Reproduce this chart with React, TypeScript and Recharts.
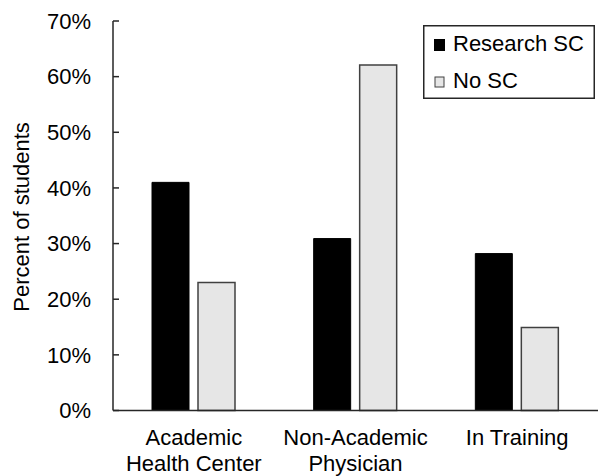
import React from "react";
import { BarChart, Bar, XAxis, YAxis, Legend } from "recharts";

const categories = ["Academic\nHealth Center", "Non-Academic\nPhysician", "In Training"];
const researchSC = [41, 30.9, 28.2];
const noSC = [23, 62.1, 14.9];
const yTicks = [0, 10, 20, 30, 40, 50, 60, 70];

const data = categories.map((c, i) => ({ name: c, research: researchSC[i], no: noSC[i] }));

const FONT = "'Liberation Sans', Arial, sans-serif";
const FS = 22;
const AXIS = "#262626";

const XTick = (props: any) => {
  const { x, y, payload } = props;
  const lines = String(payload.value).split("\n");
  return (
    <g>
      {lines.map((l: string, i: number) => (
        <text
          key={i}
          x={x}
          y={y + 34.5 + i * 26}
          textAnchor="middle"
          fontSize={FS}
          fontFamily={FONT}
          fill="#000"
        >
          {l}
        </text>
      ))}
    </g>
  );
};

const YTick = (props: any) => {
  const { x, y, payload } = props;
  const m = 22;
  return (
    <g>
      <line x1={x + m} x2={x + m + 6} y1={y} y2={y} stroke={AXIS} strokeWidth={1.5} />
      <text x={x} y={y} dy="0.355em" textAnchor="end" fontSize={FS} fontFamily={FONT} fill="#000">
        {`${payload.value}%`}
      </text>
    </g>
  );
};

const LegendContent = () => (
  <svg width={172} height={74} style={{ display: "block" }}>
    <rect x={0.75} y={0.75} width={170.5} height={72.5} fill="#fff" stroke={AXIS} strokeWidth={1.5} />
    <rect x={11.5} y={14.5} width={10} height={11} fill="#000" stroke="#000" strokeWidth={1} />
    <text x={30} y={26} fontSize={FS} fontFamily={FONT} fill="#000">Research SC</text>
    <rect x={12} y={52} width={9} height={10} fill="#e6e6e6" stroke="#404040" strokeWidth={1} />
    <text x={30} y={63} fontSize={FS} fontFamily={FONT} fill="#000">No SC</text>
  </svg>
);

export default function App() {
  return (
    <div style={{ position: "absolute", left: 0, top: 0 }}>
      <BarChart
        width={601}
        height={476}
        data={data}
        margin={{ top: 21, right: 3, bottom: 0, left: 0 }}
        barSize={37}
        barGap={9}
      >
        <XAxis
          dataKey="name"
          tickLine={false}
          tickSize={0}
          tickMargin={0}
          axisLine={{ stroke: AXIS, strokeWidth: 1.5 }}
          tick={<XTick />}
          interval={0}
          height={65.5}
        />
        <YAxis
          width={113}
          domain={[0, 70]}
          ticks={yTicks}
          interval={0}
          tickSize={0}
          tickMargin={22}
          tickLine={false}
          axisLine={{ stroke: AXIS, strokeWidth: 1.5 }}
          tick={<YTick />}
          label={{
            value: "Percent of students",
            angle: -90,
            position: "insideLeft",
            dx: 16,
            dy: 96,
            style: { fontSize: FS, fontFamily: FONT, fill: "#000" },
          }}
        />
        <Legend
          layout="horizontal"
          verticalAlign="middle"
          align="center"
          content={<LegendContent />}
          wrapperStyle={{ position: "absolute", top: 25, left: 423, width: 172, height: 74 }}
        />
        <Bar dataKey="research" name="Research SC" fill="#000" stroke="#000" strokeWidth={1} isAnimationActive={false} />
        <Bar dataKey="no" name="No SC" fill="#e6e6e6" stroke="#404040" strokeWidth={1.5} isAnimationActive={false} />
      </BarChart>
    </div>
  );
}
